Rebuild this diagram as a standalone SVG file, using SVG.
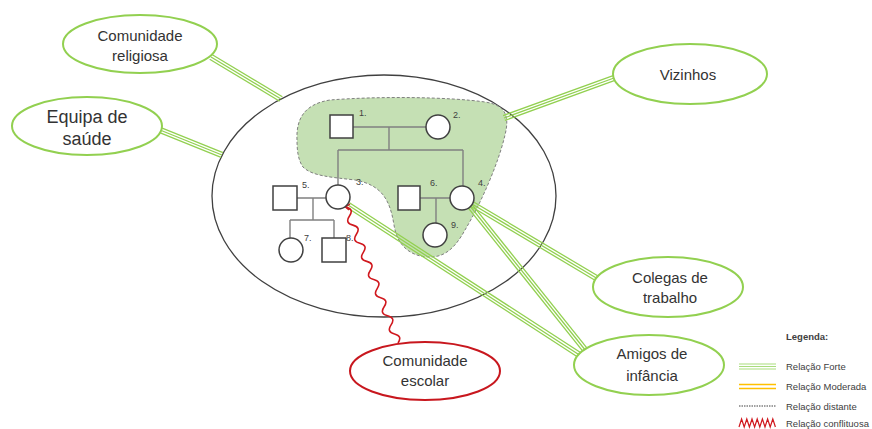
<svg xmlns="http://www.w3.org/2000/svg" width="872" height="429" viewBox="0 0 872 429">
<style>
.ext{fill:#fff;stroke:#92d050;stroke-width:2}
.conf{fill:#fff;stroke:#c8171e;stroke-width:2}
.g line{stroke:#92d050;stroke-width:1.3}
.fam{stroke:#808080;stroke-width:1.4;fill:none}
.ind{fill:#fff;stroke:#404040;stroke-width:1.5}
.t{font-family:"Liberation Sans",Arial,sans-serif;font-size:15px;fill:#333;text-anchor:middle}
.lab{font-family:"Liberation Sans",Arial,sans-serif;font-size:9px;fill:#404040}
.leg{font-family:"Liberation Sans",Arial,sans-serif;font-size:9.5px;fill:#404040}
</style>
<rect width="872" height="429" fill="#fff"/>

<g id="familia">
<ellipse cx="384" cy="196" rx="172" ry="121" fill="#fff" stroke="#404040" stroke-width="1.3"/>
<path d="M297,140 C296,118 305,104 330,100 C380,96 450,97 485,102 C505,105 510,115 505,135 C498,165 480,205 465,230 C455,248 445,257 430,257 C410,257 397,245 394,225 C390,200 382,185 355,180 C330,177 312,176 303,167 C298,160 297,150 297,140 Z" fill="#c5e0b4" stroke="#7f7f7f" stroke-width="1" stroke-dasharray="3,2"/>
<g class="fam">
<path d="M353,127 H426 M389,127 V150 M338,150 H463 M338,150 V185 M463,150 V186"/>
<path d="M297,198 H326 M313,198 V220 M290,220 H334 M290,220 V238 M334,220 V238"/>
<path d="M420,198 H450 M436,198 V223"/>
</g>
</g>

<g id="connectors">
<g class="g">
<line x1="209.66" y1="59.23" x2="279.66" y2="101.23"/><line x1="211" y1="57" x2="281" y2="99"/><line x1="212.34" y1="54.77" x2="282.34" y2="96.77"/>
<line x1="159.03" y1="132.41" x2="221.03" y2="157.41"/><line x1="160" y1="130" x2="222" y2="155"/><line x1="160.97" y1="127.59" x2="222.97" y2="152.59"/>
<line x1="613.11" y1="75.56" x2="503.11" y2="115.56"/><line x1="614" y1="78" x2="504" y2="118"/><line x1="614.89" y1="80.44" x2="504.89" y2="120.44"/>
<line x1="470.67" y1="206.23" x2="596.67" y2="281.23"/><line x1="472" y1="204" x2="598" y2="279"/><line x1="473.33" y1="201.77" x2="599.33" y2="276.77"/>
<line x1="467.97" y1="207.62" x2="583.97" y2="352.62"/><line x1="470" y1="206" x2="586" y2="351"/><line x1="472.03" y1="204.38" x2="588.03" y2="349.38"/>
<line x1="346.59" y1="207.18" x2="579.59" y2="358.18"/><line x1="348" y1="205" x2="581" y2="356"/><line x1="349.41" y1="202.82" x2="582.41" y2="353.82"/>
</g>
<path d="M350,204 L345.5,207 L349,210" fill="none" stroke="#d0181e" stroke-width="1.4"/>
<path d="M346,207 Q354.27,209.03 349.47,216.07 T352.93,225.13 T356.40,234.20 T359.87,243.27 T363.33,252.33 T366.80,261.40 T370.27,270.47 T373.73,279.53 T377.20,288.60 T380.67,297.67 T384.13,306.73 T387.60,315.80 T391.07,324.87 T394.53,333.93 T398,343" fill="none" stroke="#d0181e" stroke-width="1.6"/>
</g>

<g id="n1"><rect class="ind" x="330" y="115" width="23" height="23"/><text class="lab" x="359" y="116">1.</text></g>
<g id="n2"><circle class="ind" cx="438" cy="127" r="12"/><text class="lab" x="453" y="118">2.</text></g>
<g id="n3"><circle class="ind" cx="338" cy="197" r="12"/><text class="lab" x="356" y="185">3.</text></g>
<g id="n4"><circle class="ind" cx="462" cy="198" r="12"/><text class="lab" x="478" y="186">4.</text></g>
<g id="n5"><rect class="ind" x="273" y="186" width="24" height="24"/><text class="lab" x="302" y="188">5.</text></g>
<g id="n6"><rect class="ind" x="398" y="186" width="22" height="24"/><text class="lab" x="430" y="186">6.</text></g>
<g id="n7"><circle class="ind" cx="291" cy="250" r="12"/><text class="lab" x="304" y="241">7.</text></g>
<g id="n8"><rect class="ind" x="322" y="238" width="24" height="24"/><text class="lab" x="346" y="241">8.</text></g>
<g id="n9"><circle class="ind" cx="435" cy="235" r="12"/><text class="lab" x="451" y="228">9.</text></g>

<g id="religiosa"><ellipse class="ext" cx="140" cy="44" rx="77" ry="29"/><text class="t" x="140" y="41">Comunidade</text><text class="t" x="140" y="61">religiosa</text></g>
<g id="saude"><ellipse class="ext" cx="87" cy="126" rx="75" ry="29"/><text class="t" x="87" y="123" style="font-size:18px">Equipa de</text><text class="t" x="87" y="145" style="font-size:18px">saúde</text></g>
<g id="vizinhos"><ellipse class="ext" cx="690" cy="74" rx="77" ry="30"/><text class="t" x="688" y="80">Vizinhos</text></g>
<g id="colegas"><ellipse class="ext" cx="668" cy="287" rx="75" ry="30"/><text class="t" x="670" y="283">Colegas de</text><text class="t" x="670" y="303">trabalho</text></g>
<g id="amigos"><ellipse class="ext" cx="649" cy="365" rx="75" ry="30"/><text class="t" x="652" y="359">Amigos de</text><text class="t" x="652" y="381">infância</text></g>
<g id="escolar"><ellipse class="conf" cx="425" cy="371" rx="75" ry="29"/><text class="t" x="425" y="366">Comunidade</text><text class="t" x="425" y="386">escolar</text></g>

<g id="legenda">
<text class="leg" x="786" y="340" style="font-weight:bold">Legenda:</text>
<g stroke="#a9dd7d" stroke-width="1"><line x1="739" y1="364" x2="776" y2="364"/><line x1="739" y1="366.5" x2="776" y2="366.5"/><line x1="739" y1="369" x2="776" y2="369"/></g>
<text class="leg" x="786" y="370">Relação Forte</text>
<g stroke="#ffc000" stroke-width="1.3"><line x1="739" y1="384.5" x2="776" y2="384.5"/><line x1="739" y1="388.5" x2="776" y2="388.5"/></g>
<text class="leg" x="786" y="390">Relação Moderada</text>
<line x1="739" y1="406" x2="776" y2="406" stroke="#404040" stroke-width="1" stroke-dasharray="1.5,1"/>
<text class="leg" x="786" y="410">Relação distante</text>
<path d="M739,427 l2.6,-8 l2.6,8 l2.6,-8 l2.6,8 l2.6,-8 l2.6,8 l2.6,-8 l2.6,8 l2.6,-8 l2.6,8 l2.6,-8 l2.6,8 l2.6,-8 l2.6,8" fill="none" stroke="#d0181e" stroke-width="1.2"/>
<text class="leg" x="786" y="426.5">Relação conflituosa</text>
</g>
</svg>
